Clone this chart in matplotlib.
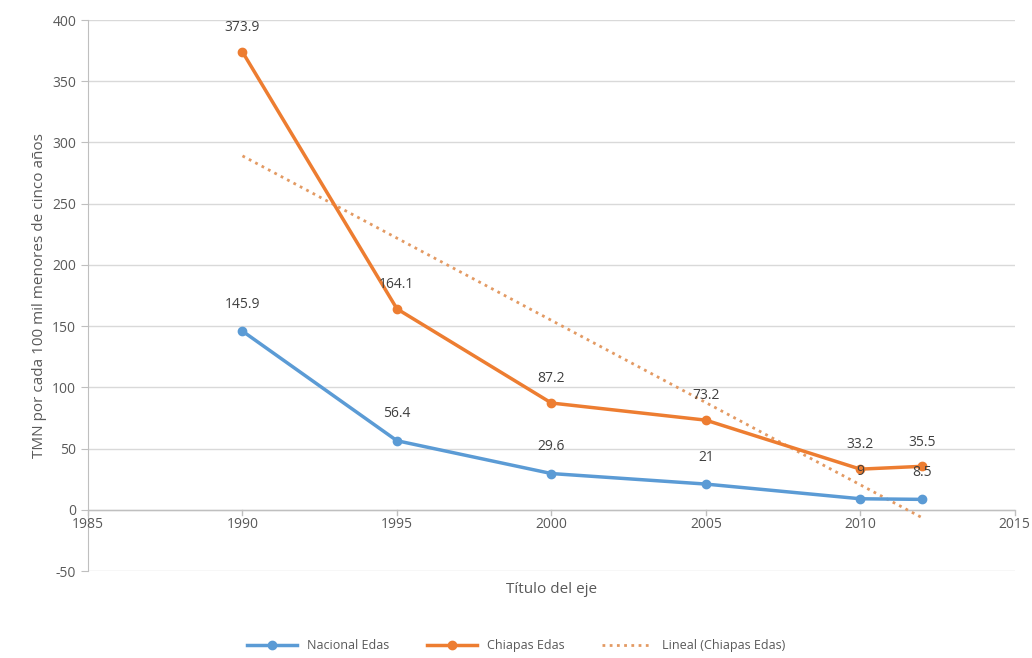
import matplotlib
matplotlib.use("Agg")
import matplotlib.pyplot as plt
import numpy as np

plt.rcParams['font.family'] = ['Open Sans', 'DejaVu Sans']
plt.rcParams['axes.unicode_minus'] = False

anios = [1990, 1995, 2000, 2005, 2010, 2012]
nacional = [145.9, 56.4, 29.6, 21, 9, 8.5]
chiapas = [373.9, 164.1, 87.2, 73.2, 33.2, 35.5]
etiquetas_nac = ["145.9", "56.4", "29.6", "21", "9", "8.5"]
etiquetas_chis = ["373.9", "164.1", "87.2", "73.2", "33.2", "35.5"]

azul = "#5B9BD5"
naranja = "#ED7D31"
gris = "#595959"

fig = plt.figure(figsize=(10.32, 6.58), dpi=100)
ax = fig.add_axes([0.0853, 0.1322, 0.898, 0.8374])

# tendencia lineal de Chiapas
m, b = np.polyfit(anios, chiapas, 1)
xt = np.array([anios[0], anios[-1]])
ax.plot(xt, m * xt + b, color="#E39A63", lw=2, ls=(0, (1, 1.6)), zorder=2,
        label="Lineal (Chiapas Edas)")

ax.plot(anios, nacional, color=azul, lw=2.5, marker="o", ms=6, zorder=3,
        label="Nacional Edas")
ax.plot(anios, chiapas, color=naranja, lw=2.5, marker="o", ms=6, zorder=3,
        label="Chiapas Edas")

for x, y, t in zip(anios, nacional, etiquetas_nac):
    ax.annotate(t, (x, y), xytext=(0, 14), textcoords="offset points",
                ha="center", va="bottom", fontsize=10, color="#404040")
for x, y, t in zip(anios, chiapas, etiquetas_chis):
    ax.annotate(t, (x, y), xytext=(0, 12), textcoords="offset points",
                ha="center", va="bottom", fontsize=10, color="#404040")

ax.set_xlim(1985, 2015)
ax.set_ylim(-50, 400)
ax.set_yticks(range(-50, 401, 50))
ax.grid(axis="y", color="#D9D9D9", lw=1)
ax.set_axisbelow(True)

for s in ["top", "right", "bottom"]:
    ax.spines[s].set_visible(False)
ax.spines["left"].set_color("#BFBFBF")

# eje x cruzando en 0
ax.axhline(0, color="#BFBFBF", lw=1, zorder=1)
ax.set_xticks([])
ax.tick_params(axis="y", length=5, color="#BFBFBF", colors=gris, labelsize=10)
for xx in range(1985, 2016, 5):
    ax.plot([xx, xx], [0, -4], color="#BFBFBF", lw=1, zorder=1, clip_on=False)
    ax.text(xx, -5.5, str(xx), ha="center", va="top", fontsize=10, color=gris)

ax.set_ylabel("TMN por cada 100 mil menores de cinco años", fontsize=11, color=gris)
ax.set_xlabel("Título del eje", fontsize=11, color=gris, labelpad=8)

h, l = ax.get_legend_handles_labels()
orden = [1, 2, 0]
fig.legend([h[i] for i in orden], [l[i] for i in orden], loc="lower center",
           bbox_to_anchor=(0.5, -0.008), ncol=3, frameon=False, fontsize=9,
           labelcolor=gris, handlelength=4, columnspacing=3)

fig.savefig("out.png", dpi=100)
